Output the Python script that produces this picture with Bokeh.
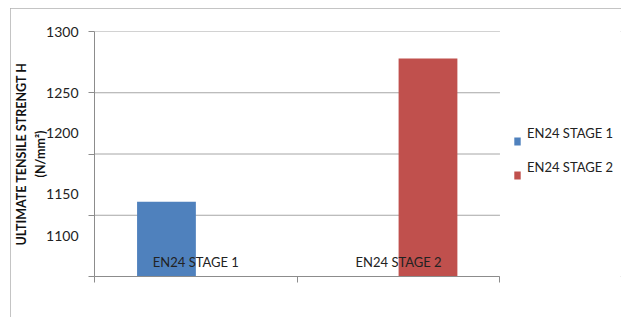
import numpy as np
from bokeh.plotting import figure
from bokeh.models import (Range1d, FixedTicker, LinearAxis, Legend, LegendItem,
                          ColumnDataSource)
from bokeh.transform import dodge
from bokeh.core.properties import value
from bokeh.embed import file_html
from bokeh.resources import INLINE

# ---- data ----
categories = ["EN24 STAGE 1", "EN24 STAGE 2"]
series_names = ["EN24 STAGE 1", "EN24 STAGE 2"]
stage1_values = [1161, None]
stage2_values = [None, 1278]
y_ticks = [1100, 1150, 1200, 1250, 1300]
# where the tick texts sit in the picture (they are drawn off the gridlines)
y_tick_label_pos = [1133, 1167, 1217, 1250, 1300]
y_tick_labels = ["1100", "1150", "1200", "1250", "1300"]

FONT = "Lato"
BLUE = "#4F81BD"
RED = "#C0504D"
GRID = "#a6a6a6"
AXIS = "#8c8c8c"

W, H = 611, 309
LEFT, TOP, BOTTOM = 82, 23, 41
CAT_PX = 407                      # pixel width taken by the categories
plot_w = W - LEFT
x_end = len(categories) * plot_w / CAT_PX

p = figure(width=W, height=H, output_backend="svg", toolbar_location=None,
           x_range=Range1d(0, x_end), y_range=Range1d(y_ticks[0], y_ticks[-1]),
           min_border_left=LEFT, min_border_right=0, min_border_top=TOP,
           min_border_bottom=BOTTOM, x_axis_type=None, y_axis_type=None)
p.margin = (8, 0, 0, 10)
p.outline_line_color = None
p.styles = {"outline": "1px solid #b0b0b0", "outline-offset": "-1px"}
p.xgrid.grid_line_color = None
p.ygrid.grid_line_color = None

# axes
xaxis = LinearAxis(ticker=FixedTicker(ticks=list(range(len(categories) + 1))),
                   bounds=(0, len(categories)))
xaxis.major_label_overrides = {i: "" for i in range(len(categories) + 1)}
xaxis.major_label_standoff = 0
xaxis.major_tick_in = 0
xaxis.major_tick_out = 6
xaxis.minor_tick_line_color = None
xaxis.axis_line_color = AXIS
xaxis.major_tick_line_color = AXIS
p.add_layout(xaxis, "below")

yaxis = LinearAxis(ticker=FixedTicker(ticks=y_ticks))
yaxis.major_label_overrides = {t: "" for t in y_ticks}
yaxis.major_label_standoff = 0
yaxis.major_tick_in = 0
yaxis.major_tick_out = 6
yaxis.minor_tick_line_color = None
yaxis.axis_line_color = AXIS
yaxis.major_tick_line_color = AXIS
p.add_layout(yaxis, "left")

ylab = LinearAxis(ticker=FixedTicker(ticks=y_tick_label_pos))
ylab.major_label_overrides = {v: t for v, t in zip(y_tick_label_pos, y_tick_labels)}
ylab.axis_line_color = None
ylab.major_tick_line_color = None
ylab.minor_tick_line_color = None
ylab.major_label_standoff = 4
ylab.major_label_text_font = FONT
ylab.major_label_text_font_size = "14px"
ylab.major_label_text_color = "#222222"
ylab.axis_label = "ULTIMATE TENSILE STRENGT H\n(N/mm²)"
ylab.axis_label_text_font = FONT
ylab.axis_label_text_font_size = "12.5px"
ylab.axis_label_text_font_style = "bold"
ylab.axis_label_text_color = "#111111"
ylab.axis_label_text_line_height = 1.3
ylab.axis_label_standoff = -5
p.add_layout(ylab, "left")

# horizontal gridlines, only across the category area
p.segment(x0=0, x1=len(categories), y0=y_ticks, y1=y_ticks,
          line_color=GRID, line_width=1)

# bars
centers = np.arange(len(categories)) + 0.5
bar_w = 0.29
renderers = []
for vals, off, col in [(stage1_values, -bar_w / 2, BLUE), (stage2_values, bar_w / 2, RED)]:
    xs = [c for c, v in zip(centers, vals) if v is not None]
    ts = [v for v in vals if v is not None]
    src = ColumnDataSource(dict(x=xs, top=ts))
    r = p.vbar(x=dodge("x", off), top="top", bottom=y_ticks[0], width=bar_w,
               source=src, fill_color=col, line_color=None)
    renderers.append(r)

# category names (drawn inside the plot, just above the axis)
p.text(x=centers, y=[y_ticks[0]] * len(categories), text=categories, y_offset=-15,
       text_font=value(FONT), text_font_size="13px", text_align="center",
       text_baseline="middle", text_color="#222222")

# legend: one small legend per series, text sitting above its swatch
for n, r, loc in zip(series_names, renderers, [(419, 119), (419, 85)]):
    lg = Legend(items=[LegendItem(label=n + "\n ", renderers=[r])],
                location=loc, padding=0, margin=0, spacing=0,
                glyph_width=8, glyph_height=10, label_standoff=6,
                border_line_color=None, background_fill_alpha=0,
                label_text_font=FONT, label_text_font_size="13px",
                label_text_baseline="bottom",
                label_text_color="#222222")
    p.add_layout(lg, "center")

open("out.html", "w").write(file_html(p, INLINE))
